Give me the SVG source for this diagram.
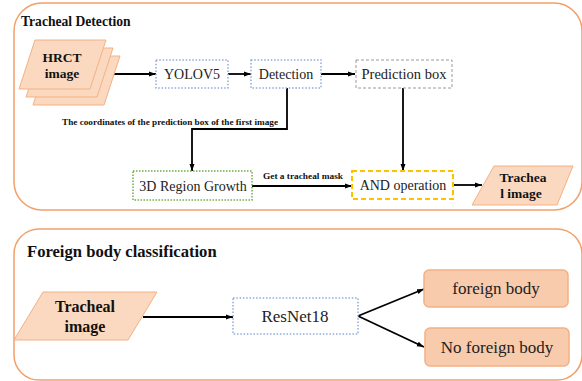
<svg xmlns="http://www.w3.org/2000/svg" width="582" height="381" viewBox="0 0 582 381">
<style>
.frame{fill:none;stroke:#f2a069;stroke-width:1.5}
.para{fill:#fbd9c0;stroke:#f4b183;stroke-width:1}
.rnd{fill:#f8cbad;stroke:#f4b183;stroke-width:1.5}
.blue{fill:#fff;stroke:#8eaadb;stroke-width:1.5;stroke-dasharray:1.5 1.8}
.green{fill:#fff;stroke:#70ad47;stroke-width:1.5;stroke-dasharray:1.5 1.5}
.gray{fill:#fff;stroke:#9a9a9a;stroke-width:1;stroke-dasharray:3 2}
.yellow{fill:#fff;stroke:#ffc000;stroke-width:2;stroke-dasharray:5 3}
text{font-family:'Liberation Serif',Tinos,'Times New Roman',Times,'DejaVu Serif',serif}
.t{fill:#222;text-anchor:middle}
.b{font-weight:bold;fill:#111}
.c{stroke:#000;stroke-width:1.8;fill:none}
</style>
<defs>
<marker id="ah" markerWidth="8" markerHeight="8" refX="7" refY="4" orient="auto" markerUnits="userSpaceOnUse">
<path d="M0,1.5 L7,4 L0,6.5 Z" fill="#000"/>
</marker>
</defs>

<g id="frame-top">
<rect class="frame" x="14" y="3" width="568" height="207" rx="28"/>
<text class="b" x="21" y="26" font-size="13.6">Tracheal Detection</text>
</g>
<g id="frame-bottom">
<rect class="frame" x="14" y="229" width="568" height="151" rx="25"/>
<text class="b" x="27" y="257" font-size="16.6">Foreign body classification</text>
</g>

<g id="connectors">
<line class="c" x1="107" y1="74" x2="156" y2="74" marker-end="url(#ah)"/>
<line class="c" x1="228" y1="74" x2="251" y2="74" marker-end="url(#ah)"/>
<line class="c" x1="321" y1="74" x2="355" y2="74" marker-end="url(#ah)"/>
<polyline class="c" points="287,88 287,129 192,129 192,171" marker-end="url(#ah)"/>
<text class="b" x="62" y="125" font-size="9.2" textLength="216" lengthAdjust="spacingAndGlyphs">The coordinates of the prediction box of the first image</text>
<line class="c" x1="403" y1="88" x2="403" y2="171" marker-end="url(#ah)"/>
<line class="c" x1="252" y1="186" x2="352" y2="186" marker-end="url(#ah)"/>
<text class="b" x="263" y="179" font-size="9.2" textLength="80" lengthAdjust="spacingAndGlyphs">Get a tracheal mask</text>
<line class="c" x1="454" y1="185" x2="482" y2="185" marker-end="url(#ah)"/>
<line class="c" x1="143" y1="317" x2="233" y2="317" marker-end="url(#ah)"/>
<line class="c" x1="358" y1="316" x2="424" y2="289" marker-end="url(#ah)"/>
<line class="c" x1="358" y1="316" x2="424" y2="347" marker-end="url(#ah)"/>
</g>

<g id="hrct">
<polygon class="para" points="49,56 120,56 104,105 33,105"/>
<polygon class="para" points="42,48 113,48 97,97 26,97"/>
<polygon class="para" points="35,40 106,40 90,89 19,89"/>
<text class="b" x="62" y="62" font-size="13.5" text-anchor="middle">HRCT</text>
<text class="b" x="62" y="78" font-size="13.5" text-anchor="middle">image</text>
</g>
<g id="yolov5">
<rect class="blue" x="156" y="60" width="72" height="28"/>
<text class="t" x="192" y="79" font-size="14">YOLOV5</text>
</g>
<g id="detection">
<rect class="blue" x="251" y="60" width="70" height="28"/>
<text class="t" x="286" y="79" font-size="14">Detection</text>
</g>
<g id="prediction">
<rect class="gray" x="356" y="60" width="96" height="28"/>
<text class="t" x="404" y="79" font-size="14.5">Prediction box</text>
</g>
<g id="region-growth">
<rect class="green" x="133" y="171" width="119" height="29"/>
<text class="t" x="193" y="191" font-size="14">3D Region Growth</text>
</g>
<g id="and-op">
<rect class="yellow" x="352" y="171" width="101" height="28"/>
<text class="t" x="403" y="190" font-size="14">AND operation</text>
</g>
<g id="tracheal-out">
<polygon class="para" points="494,166 573,166 557,205 472,205"/>
<text class="b" x="523" y="182" font-size="13.5" text-anchor="middle">Trachea</text>
<text class="b" x="521" y="198" font-size="13.5" text-anchor="middle">l image</text>
</g>
<g id="tracheal-in">
<polygon class="para" points="43,292 157,292 128,340 14,340"/>
<text class="b" x="85" y="312" font-size="16" text-anchor="middle">Tracheal</text>
<text class="b" x="85" y="332" font-size="16" text-anchor="middle">image</text>
</g>
<g id="resnet">
<rect class="blue" x="233" y="298" width="125" height="36"/>
<text class="t" x="295" y="322" font-size="17">ResNet18</text>
</g>
<g id="foreign">
<rect class="rnd" x="424" y="270" width="144" height="37" rx="5"/>
<text class="t" x="496" y="294" font-size="17">foreign body</text>
</g>
<g id="no-foreign">
<rect class="rnd" x="425" y="328" width="144" height="38" rx="5"/>
<text class="t" x="497" y="353" font-size="17">No foreign body</text>
</g>
</svg>
